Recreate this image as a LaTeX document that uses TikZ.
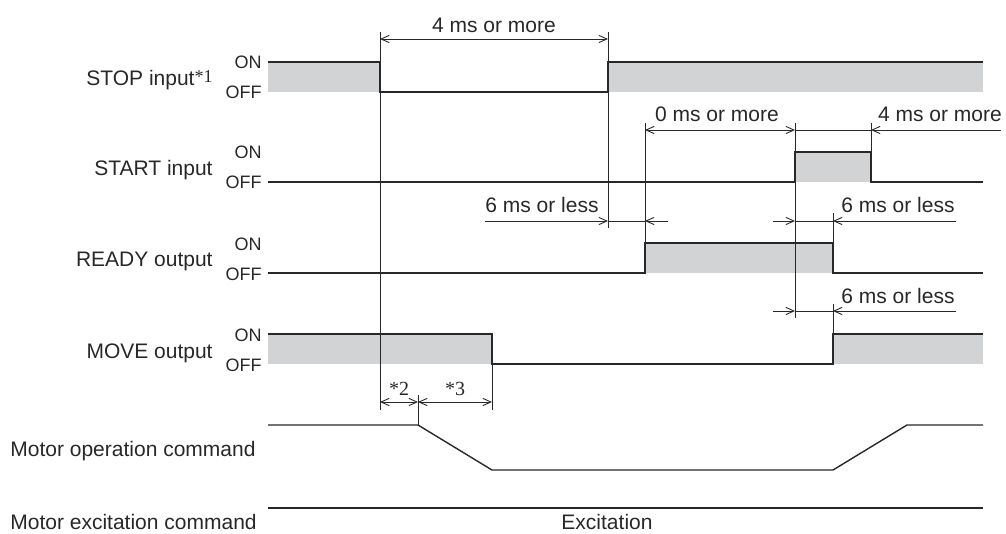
\documentclass[tikz,border=0pt]{standalone}
\usepackage{fontspec}
\setmainfont{Liberation Sans}
\newfontfamily\seriffont{Liberation Serif}
\usetikzlibrary{arrows.meta}
\definecolor{sigfill}{RGB}{209,211,212}
\definecolor{ink}{RGB}{40,40,40}

\begin{document}
\begin{tikzpicture}[x=0.5pt, y=-0.5pt,
  sig/.style={line width=0.7pt, draw=ink},
  dim/.style={line width=0.45pt, draw=ink},
  lbl/.style={font=\fontsize{10.5}{12}\selectfont, inner sep=0pt, text=ink},
  lvl/.style={font=\fontsize{9}{10}\selectfont, inner sep=0pt, anchor=base east, text=ink},
  >={Straight Barb[length=4pt,width=3.6pt]}]
  \useasboundingbox (0,0) rectangle (1006,534);

  % signal names
  \node[lbl, anchor=base east] (stop) at (213,86)
    {STOP input{\seriffont\fontsize{9}{9}\selectfont\raisebox{1.5pt}{*1}}};
  \node[lbl, anchor=base east] (start) at (213,176) {START input};
  \node[lbl, anchor=base east] (ready) at (213,267) {READY output};
  \node[lbl, anchor=base east] (move) at (213,358) {MOVE output};
  \node[lbl, anchor=base west] (motor) at (10,456) {Motor operation command};
  \node[lbl, anchor=base west] (excite) at (10,529) {Motor excitation command};
  \node[lbl, anchor=base] (exc) at (607,529) {Excitation};
  \foreach \y/\n in {62/stop,152/start,243/ready,334/move} {
    \node[lvl] (on\n) at (262,\y+7) {ON};
    \node[lvl] (off\n) at (262,\y+37) {OFF};
  }

  % STOP input
  \fill[sigfill] (268,62) rectangle (380,92);
  \fill[sigfill] (608,62) rectangle (983,92);
  \draw[sig] (268,62) -- (380,62) -- (380,92) -- (608,92) -- (608,62) -- (983,62);
  % START input
  \fill[sigfill] (795,152) rectangle (871,182);
  \draw[sig] (268,182) -- (795,182) -- (795,152) -- (871,152) -- (871,182) -- (983,182);
  % READY output
  \fill[sigfill] (645,243) rectangle (833,273);
  \draw[sig] (268,273) -- (645,273) -- (645,243) -- (833,243) -- (833,273) -- (983,273);
  % MOVE output
  \fill[sigfill] (268,334) rectangle (492,364);
  \fill[sigfill] (833,334) rectangle (983,364);
  \draw[sig] (268,334) -- (492,334) -- (492,364) -- (833,364) -- (833,334) -- (983,334);
  % motor commands
  \draw[sig] (268,425) -- (418,425) -- (492,470) -- (833,470) -- (907,425) -- (983,425);
  \draw[sig] (268,508) -- (983,508);

  % extension lines
  \foreach \x/\a/\b in {380/32/410, 608/32/228, 645/123/243, 795/123/318,
                        871/123/152, 833/213/243, 833/304/334, 418/395/425, 492/364/410}
    \draw[dim] (\x,\a) -- (\x,\b);

  % timings
  \draw[dim, <->] (380,39) -- (608,39);
  \node[lbl, anchor=base] (t4a) at (494,33) {4 ms or more};
  \draw[dim, <->] (645,130) -- (795,130);
  \node[lbl, anchor=base] (t0) at (717,122) {0 ms or more};
  \draw[dim] (795,130) -- (871,130);
  \draw[dim, ->] (1001,130) -- (871,130);
  \node[lbl, anchor=base] (t4b) at (940,122) {4 ms or more};
  \draw[dim, ->] (485,221) -- (608,221);
  \draw[dim] (608,221) -- (645,221);
  \draw[dim, ->] (668,221) -- (645,221);
  \node[lbl, anchor=base] (t6a) at (542,213) {6 ms or less};
  \foreach \y/\n in {221/b,311/c} {
    \draw[dim, ->] (773,\y) -- (795,\y);
    \draw[dim] (795,\y) -- (833,\y);
    \draw[dim, ->] (956,\y) -- (833,\y);
    \node[lbl, anchor=base] (t6\n) at (898,\y-8) {6 ms or less};
  }
  \draw[dim, <->] (380,402) -- (418,402);
  \draw[dim, <->] (418,402) -- (492,402);
  \node[lbl, anchor=base, font=\seriffont\fontsize{10}{12}\selectfont] (n2) at (399,395) {*2};
  \node[lbl, anchor=base, font=\seriffont\fontsize{10}{12}\selectfont] (n3) at (455,395) {*3};
\end{tikzpicture}
\end{document}
